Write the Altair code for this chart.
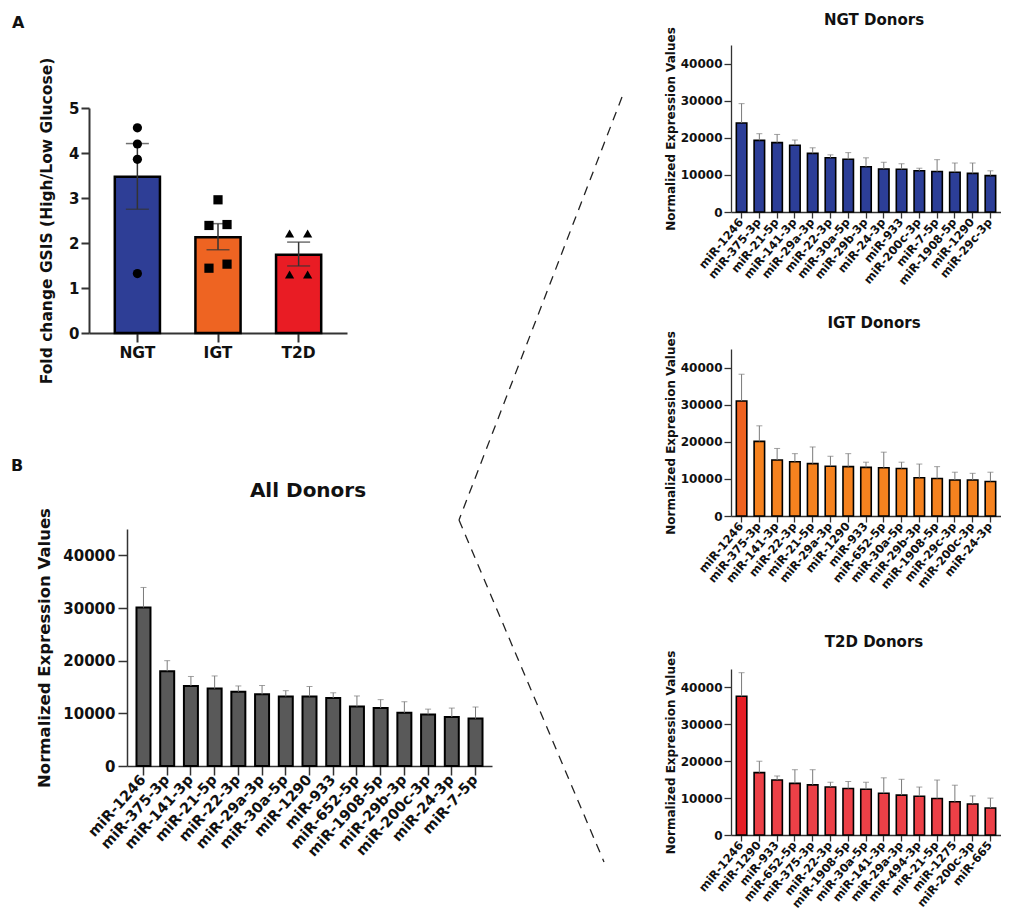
import altair as alt
import pandas as pd

FONT = "DejaVu Sans"
W, H = 993, 900

# ---------------- Panel A data ----------------
groups = ["NGT", "IGT", "T2D"]
gsis_mean = [3.47, 2.13, 1.74]
gsis_low = [2.75, 1.85, 1.49]
gsis_high = [4.21, 2.43, 2.02]
pt_group = ["NGT"] * 4 + ["IGT"] * 5 + ["T2D"] * 4
pt_value = [4.56, 4.20, 3.86, 1.32, 2.96, 2.39, 2.41, 1.44, 1.53, 2.21, 2.21, 1.30, 1.30]
pt_slot = ["C", "C", "C", "C", "C", "L", "R", "L", "R", "L", "R", "L", "R"]
colors_a = ["#2E3E96", "#EE6422", "#E91C24"]

# ---------------- Panel B (All donors) ----------------
all_labels = ["miR-1246", "miR-375-3p", "miR-141-3p", "miR-21-5p", "miR-22-3p", "miR-29a-3p",
              "miR-30a-5p", "miR-1290", "miR-933", "miR-652-5p", "miR-1908-5p", "miR-29b-3p",
              "miR-200c-3p", "miR-24-3p", "miR-7-5p"]
all_values = [30100, 18000, 15200, 14700, 14100, 13600, 13200, 13200, 12900, 11300, 11000, 10100, 9800, 9300, 9000]
all_upper = [33900, 20000, 17000, 17100, 15200, 15300, 14300, 15100, 13900, 13300, 12600, 12200, 10800, 11000, 11200]

# ---------------- NGT donors ----------------
ngt_labels = ["miR-1246", "miR-375-3p", "miR-21-5p", "miR-141-3p", "miR-29a-3p", "miR-22-3p",
              "miR-30a-5p", "miR-29b-3p", "miR-24-3p", "miR-933", "miR-200c-3p", "miR-7-5p",
              "miR-1908-5p", "miR-1290", "miR-29c-3p"]
ngt_values = [24000, 19300, 18700, 18000, 15800, 14600, 14200, 12200, 11600, 11500, 11100, 10900, 10700, 10400, 9800]
ngt_upper = [29200, 21100, 20900, 19400, 17300, 15400, 16000, 14600, 13400, 13000, 11800, 14100, 13200, 13200, 11100]

# ---------------- IGT donors ----------------
igt_labels = ["miR-1246", "miR-375-3p", "miR-141-3p", "miR-22-3p", "miR-21-5p", "miR-29a-3p",
              "miR-1290", "miR-933", "miR-652-5p", "miR-30a-5p", "miR-29b-3p", "miR-1908-5p",
              "miR-29c-3p", "miR-200c-3p", "miR-24-3p"]
igt_values = [31000, 20100, 15100, 14600, 14100, 13400, 13300, 13100, 13000, 12800, 10300, 10100, 9700, 9700, 9300]
igt_upper = [38200, 24300, 18200, 16800, 18600, 16100, 16800, 14500, 17200, 14500, 14000, 13300, 11800, 11500, 11800]

# ---------------- T2D donors ----------------
t2d_labels = ["miR-1246", "miR-1290", "miR-933", "miR-652-5p", "miR-375-3p", "miR-22-3p",
              "miR-1908-5p", "miR-30a-5p", "miR-141-3p", "miR-29a-3p", "miR-494-3p", "miR-21-5p",
              "miR-1275", "miR-200c-3p", "miR-665"]
t2d_values = [37600, 16900, 14900, 14000, 13600, 13000, 12600, 12400, 11300, 10800, 10500, 9900, 9000, 8400, 7300]
t2d_upper = [44000, 20000, 16000, 17700, 17700, 14300, 14500, 14300, 15500, 15100, 13000, 14900, 13500, 10600, 10000]

YA = "Fold change GSIS (High/Low Glucose)"
YB = "Normalized Expression Values"


def label(text, x, y, size, align="center"):
    return alt.Chart(pd.DataFrame({"t": [text]})).mark_text(
        align=align, baseline="middle", fontSize=size, font=FONT, fontWeight="bold", color="#111"
    ).encode(text="t:N", x=alt.value(x), y=alt.value(y))


def panel_a():
    # plot box (pixels inside the figure): x 81..339, y 100..325
    df = pd.DataFrame({"group": groups, "mean": gsis_mean, "low": gsis_low, "high": gsis_high})
    dfp = pd.DataFrame({"group": pt_group, "value": pt_value, "slot": pt_slot})
    xsc = alt.Scale(range=[81, 339], paddingInner=0.44, paddingOuter=0.32)
    xax = alt.Axis(orient="bottom", offset=325 - H, title=None, labelAngle=0, labelFontSize=15.5,
                   tickSize=9, labelPadding=3, domainWidth=2, tickWidth=2)
    x = alt.X("group:N", sort=groups, scale=xsc, axis=xax)
    xs = alt.X("group:N", sort=groups)
    ysc = alt.Scale(domain=[0, 5], range=[325, 100], nice=False)
    yax = alt.Axis(orient="left", offset=-81, values=[0, 1, 2, 3, 4, 5], format="d", tickSize=8,
                   labelPadding=2, labelFontSize=15, titleFontSize=15.5, titlePadding=14,
                   domainWidth=2, tickWidth=2)
    bars = alt.Chart(df).mark_bar(stroke="black", strokeWidth=2.5).encode(
        x=x, y=alt.Y("mean:Q", scale=ysc, title=YA, axis=yax),
        color=alt.Color("group:N", scale=alt.Scale(domain=groups, range=colors_a), legend=None),
    )
    err = alt.Chart(df).mark_rule(color="#333", strokeWidth=1.5).encode(
        x=xs, y=alt.Y("low:Q", title=YA), y2="high:Q")
    cap_lo = alt.Chart(df).mark_tick(color="#333", thickness=1.5, size=23).encode(
        x=xs, y=alt.Y("low:Q", title=YA))
    cap_hi = alt.Chart(df).mark_tick(color="#333", thickness=1.5, size=23).encode(
        x=xs, y=alt.Y("high:Q", title=YA))
    base = alt.layer(bars, err, cap_lo, cap_hi)

    # individual donors, slightly spread left / right of the bar centre
    pts = alt.Chart(dfp).transform_calculate(
        px="indexof(['NGT','IGT','T2D'], datum.group) + (datum.slot == 'L' ? -0.112 : datum.slot == 'R' ? 0.112 : 0)"
    ).mark_point(filled=True, color="black", size=85, opacity=1).encode(
        x=alt.X("px:Q", scale=alt.Scale(domain=[0, 2], range=[129.4, 290.6], nice=False, zero=False), axis=None),
        y=alt.Y("value:Q", title=YA),
        shape=alt.Shape("group:N", scale=alt.Scale(domain=groups, range=["circle", "square", "triangle-up"]),
                        legend=None),
    )
    return alt.layer(base, pts).resolve_scale(x="independent")


def bar_panel(labels, values, upper, fill, first_fill, xr, yr, s):
    df = pd.DataFrame({"mir": labels, "value": values, "upper": upper, "order": list(range(len(labels)))})
    xsc = alt.Scale(range=xr, paddingInner=s["pi"], paddingOuter=s["po"])
    xax = alt.Axis(orient="bottom", offset=yr[0] - H, title=None, labelAngle=s["ang"], labelAlign="right",
                   labelBaseline="middle", labelFontSize=s["xlab"], tickSize=s["xtick"], labelPadding=2,
                   domainWidth=s["dw"], tickWidth=s["dw"])
    x = alt.X("mir:N", sort=labels, scale=xsc, axis=xax)
    xs = alt.X("mir:N", sort=labels)
    yax = alt.Axis(orient="left", offset=-xr[0], values=[0, 10000, 20000, 30000, 40000], format="d",
                   tickSize=s["ytick"], labelPadding=s["lpad"], labelFontSize=s["tick"],
                   titleFontSize=s["ytitle"], titlePadding=s["tpad"], domainWidth=s["dw"], tickWidth=s["dw"])
    bars = alt.Chart(df).mark_bar(stroke="black", strokeWidth=s["bs"]).encode(
        x=x,
        y=alt.Y("value:Q", scale=alt.Scale(domain=[0, 45000], range=yr, nice=False), title=YB, axis=yax),
        color=alt.condition("datum.order == 0", alt.value(first_fill), alt.value(fill)),
    )
    err = alt.Chart(df).mark_rule(color="#7a7a7a", strokeWidth=1).encode(
        x=xs, y=alt.Y("value:Q", title=YB), y2="upper:Q")
    cap = alt.Chart(df).mark_tick(color="#7a7a7a", thickness=1, size=6).encode(
        x=xs, y=alt.Y("upper:Q", title=YB))
    return alt.layer(bars, err, cap)


SB = dict(pi=0.41, po=0.4, xlab=14.5, ang=-48, xtick=9, dw=1.5, bs=2, ytick=9, lpad=3, tick=15,
          ytitle=16.5, tpad=10)
SR = dict(pi=0.41, po=0.3, xlab=11.5, ang=-50, xtick=6, dw=1.3, bs=1.6, ytick=7, lpad=2, tick=12,
          ytitle=12, tpad=3)

RX = [723, 993]
chart_a = panel_a()
chart_b = bar_panel(all_labels, all_values, all_upper, "#595959", "#595959", [119, 484], [758, 521], SB)
chart_ngt = bar_panel(ngt_labels, ngt_values, ngt_upper, "#2C3E97", "#2C3E97", RX, [204, 37], SR)
chart_igt = bar_panel(igt_labels, igt_values, igt_upper, "#F5821F", "#EE6220", RX, [508, 341], SR)
chart_t2d = bar_panel(t2d_labels, t2d_values, t2d_upper, "#EC4047", "#E51E25", RX, [827, 661], SR)

one = pd.DataFrame({"k": [0]})
dash1 = alt.Chart(one).mark_rule(strokeDash=[9, 7], color="#222", strokeWidth=1.3).encode(
    x=alt.value(614), y=alt.value(89), x2=alt.value(451), y2=alt.value(512))
dash2 = alt.Chart(one).mark_rule(strokeDash=[9, 7], color="#222", strokeWidth=1.3).encode(
    x=alt.value(451), y=alt.value(512), x2=alt.value(596), y2=alt.value(854))

texts = [
    label("A", 4, 14.5, 16, align="left"),
    label("B", 3, 458, 16, align="left"),
    label("All Donors", 300, 483, 20),
    label("NGT Donors", 866, 12, 15),
    label("IGT Donors", 866, 315, 15),
    label("T2D Donors", 866, 634, 15),
]

chart = alt.layer(
    chart_a, chart_b, chart_ngt, chart_igt, chart_t2d, dash1, dash2, *texts
).resolve_scale(x="independent", y="independent").properties(
    width=W, height=H, autosize=alt.AutoSizeParams(type="none"), padding=0
).configure_view(strokeWidth=0).configure_axis(
    grid=False, labelFont=FONT, titleFont=FONT, labelFontWeight="bold", titleFontWeight="bold",
    labelColor="#111", titleColor="#111", domainColor="#333", tickColor="#333"
)

chart.save("out.html", embed_options={"renderer": "svg", "actions": False})
